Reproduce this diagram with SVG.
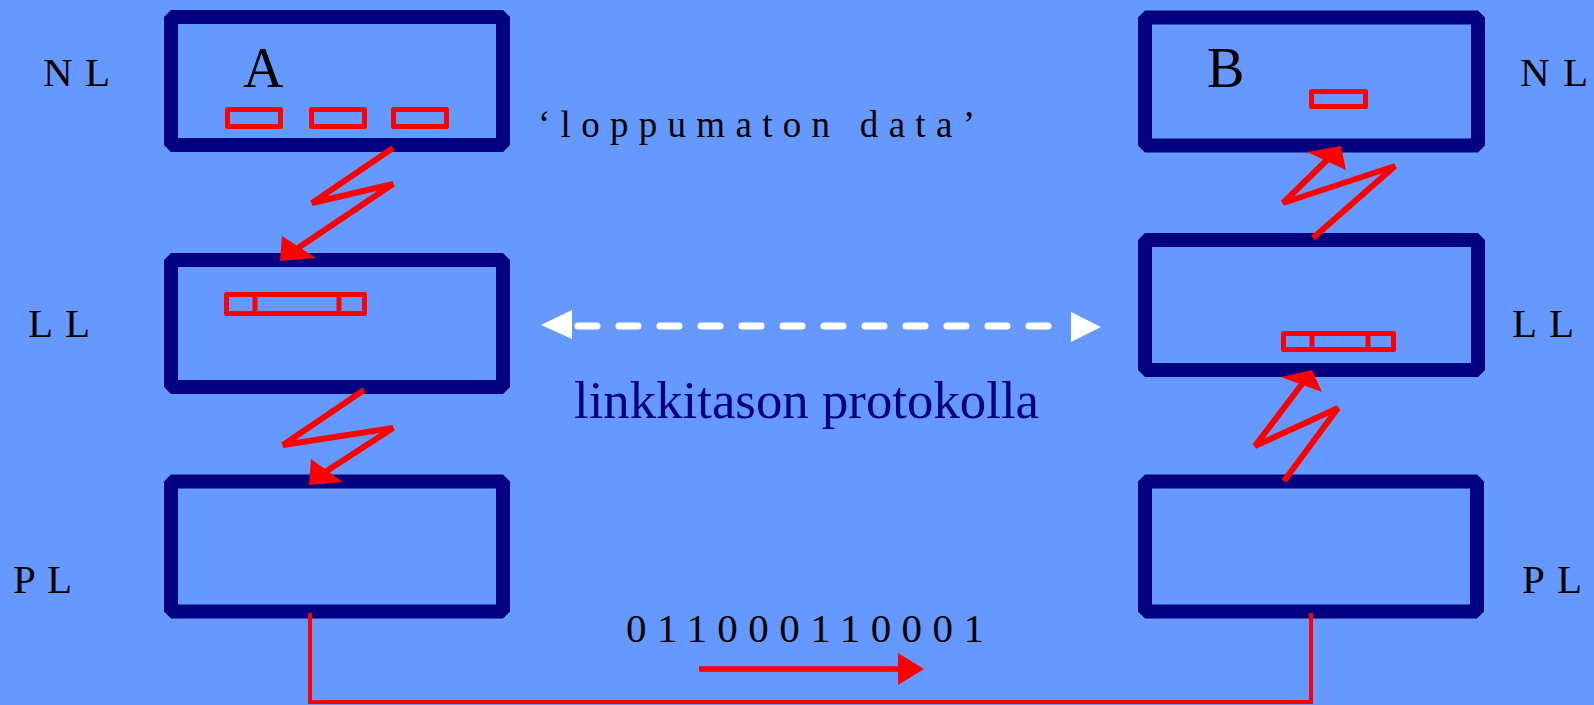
<svg xmlns="http://www.w3.org/2000/svg" width="1594" height="705" viewBox="0 0 1594 705">
  <style>
    .box { fill: none; stroke: #000080; stroke-width: 14; stroke-linejoin: bevel; }
    .pkt { fill: none; stroke: #FF0000; stroke-width: 5; stroke-linejoin: round; }
    .zz { fill: none; stroke: #FF0000; stroke-width: 6; stroke-linejoin: miter; }
    .head { fill: #FF0000; }
    .lbl { font-family: "Liberation Serif", "Times New Roman", serif; fill: #000000; }
  </style>
  <rect x="0" y="0" width="1594" height="705" fill="#6699FF"/>

  <g id="labels">
    <text class="lbl" x="43" y="86" font-size="41" textLength="67" lengthAdjust="spacing">N L</text>
    <text class="lbl" x="28" y="337" font-size="41" textLength="62" lengthAdjust="spacing">L L</text>
    <text class="lbl" x="13" y="593" font-size="41" textLength="59" lengthAdjust="spacing">P L</text>
    <text class="lbl" x="1520" y="86" font-size="41" textLength="68" lengthAdjust="spacing">N L</text>
    <text class="lbl" x="1512" y="337" font-size="41" textLength="62" lengthAdjust="spacing">L L</text>
    <text class="lbl" x="1522" y="593" font-size="41" textLength="60" lengthAdjust="spacing">P L</text>
    <text class="lbl" x="538" y="137" font-size="37" textLength="437" lengthAdjust="spacing">‘loppumaton data’</text>
    <text class="lbl" x="626" y="642" font-size="41" textLength="358" lengthAdjust="spacing">011000110001</text>
    <text x="574" y="418" font-family="Liberation Serif, Times New Roman, serif" font-size="52" fill="#000080" textLength="465" lengthAdjust="spacingAndGlyphs">linkkitason protokolla</text>
  </g>

  <g id="node-A-NL">
    <rect class="box" x="171" y="17" width="332" height="128"/>
    <text class="lbl" x="243" y="87" font-size="56">A</text>
    <rect class="pkt" x="227.5" y="109.5" width="53" height="17"/>
    <rect class="pkt" x="311.5" y="109.5" width="53" height="17"/>
    <rect class="pkt" x="393.5" y="109.5" width="53" height="17"/>
  </g>
  <g id="node-A-LL">
    <rect class="box" x="171" y="260" width="332" height="127"/>
    <rect class="pkt" x="226.5" y="294.5" width="138" height="19"/>
    <line x1="255" y1="294.5" x2="255" y2="313.5" stroke="#FF0000" stroke-width="5"/>
    <line x1="339" y1="294.5" x2="339" y2="313.5" stroke="#FF0000" stroke-width="5"/>
  </g>
  <g id="node-A-PL">
    <rect class="box" x="171" y="481.5" width="332" height="130"/>
  </g>
  <g id="node-B-NL">
    <rect class="box" x="1145" y="17.5" width="333" height="128"/>
    <text class="lbl" x="1207" y="87" font-size="56">B</text>
    <rect class="pkt" x="1311.5" y="91.5" width="54" height="15"/>
  </g>
  <g id="node-B-LL">
    <rect class="box" x="1145" y="240" width="333" height="130"/>
    <rect class="pkt" x="1283.5" y="333.5" width="110" height="16"/>
    <line x1="1312" y1="333.5" x2="1312" y2="349.5" stroke="#FF0000" stroke-width="5"/>
    <line x1="1368" y1="333.5" x2="1368" y2="349.5" stroke="#FF0000" stroke-width="5"/>
  </g>
  <g id="node-B-PL">
    <rect class="box" x="1145" y="481.5" width="332" height="130"/>
  </g>

  <g id="connectors">
    <polyline class="zz" points="393,148 312,203 393,184 298,248"/>
    <polygon class="head" points="280,261 282,236 316,258"/>
    <polyline class="zz" points="364,390 283,445 393,428 322,474"/>
    <polygon class="head" points="309,485 311,459 343,482"/>
    <polyline class="zz" points="1313,238 1395,166 1283,203 1328,159"/>
    <polygon class="head" points="1341,146 1307,152 1346,170"/>
    <polyline class="zz" points="1284,481 1338,408 1255,446 1302,384"/>
    <polygon class="head" points="1312,370 1281,377 1322,392"/>
    <polyline fill="none" stroke="#FF0000" stroke-width="4" points="310,613 310,702 1311,702 1311,613"/>
    <line x1="699" y1="669" x2="900" y2="669" stroke="#FF0000" stroke-width="5.5"/>
    <polygon class="head" points="898,653 924,669 898,685"/>
    <line x1="578" y1="326" x2="1068" y2="326" stroke="#FFFFFF" stroke-width="7" stroke-linecap="round" stroke-dasharray="19 22"/>
    <polygon fill="#FFFFFF" points="541,325 572,310 572,339"/>
    <polygon fill="#FFFFFF" points="1101,327 1071,312 1071,342"/>
  </g>
</svg>
